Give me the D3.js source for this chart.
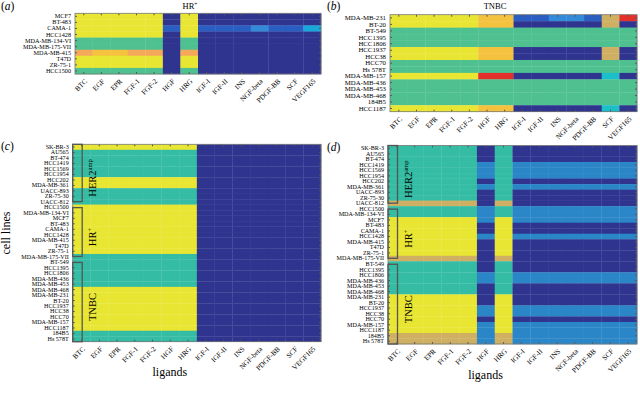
<!DOCTYPE html>
<html>
<head>
<meta charset="utf-8">
<script src="https://cdn.jsdelivr.net/npm/d3@7"></script>
<style>
  body { margin: 0; background: #fff; }
  svg text { font-family: "Liberation Serif", "DejaVu Serif", serif; fill: #000; }
  .tick line { stroke: #555; }
</style>
</head>
<body>
<svg id="chart" width="640" height="394"></svg>
<script>
// ligands on the x axis (same for all four panels)
const ligands = ["BTC", "EGF", "EPR", "FGF-1", "FGF-2", "HGF", "HRG",
  "IGF-I", "IGF-II", "INS", "NGF-beta", "PDGF-BB", "SCF", "VEGF165"];

// (a) HR+ cell lines, one code per ligand
const hrLines = ["MCF7", "BT-483", "CAMA-1", "HCC1428", "MDA-MB-134-VI",
  "MDA-MB-175-VII", "MDA-MB-415", "T47D", "ZR-75-1", "HCC1500"];
const hrCodes = [
  "YYYYYDYDDDDDDD",
  "YYYYYDYDDDDDDD",
  "YYYYYMYMMMNMMC",
  "YYYYYDYDDDDDDD",
  "TTTTTDTDDDDDDD",
  "TTTTTDTDDDDDDD",
  "OQQOODODDDDDDD",
  "YYYYYDYDDDDDDD",
  "YYYYYDYDDDDDDD",
  "TTTTTDTDDDDDDD"
];

// (b) TNBC cell lines
const tnbcLines = ["MDA-MB-231", "BT-20", "BT-549", "HCC1395", "HCC1806",
  "HCC1937", "HCC38", "HCC70", "Hs 578T", "MDA-MB-157", "MDA-MB-436",
  "MDA-MB-453", "MDA-MB-468", "184B5", "HCC1187"];
const tnbcCodes = [
  "YYYYYQQMMNNMSR",
  "YYYYYQQDDDDDSD",
  "TTTTTTTTTTTTTT",
  "TTTTTTTTTTTTTT",
  "TTTTTTTTTTTTTT",
  "YYYYYQQDDDDDSD",
  "YYYYYQQDDDDDSD",
  "TTTTTTTTTTTTTT",
  "TTTTTTTTTTTTTT",
  "YYYYYRRDDDDDKD",
  "TTTTTTTTTTTTTT",
  "TTTTTTTTTTTTTT",
  "TTTTTTTTTTTTTT",
  "TTTTTTTTTTTTTT",
  "YYYYYQQDDDDDKD"
];

// (c), (d) all cell lines
const allLines = ["SK-BR-3", "AU565", "BT-474", "HCC1419", "HCC1569", "HCC1954",
  "HCC202", "MDA-MB-361", "UACC-893", "ZR-75-30", "UACC-812",
  "HCC1500", "MDA-MB-134-VI", "MCF7", "BT-483", "CAMA-1", "HCC1428",
  "MDA-MB-415", "T47D", "ZR-75-1", "MDA-MB-175-VII",
  "BT-549", "HCC1395", "HCC1806", "MDA-MB-436", "MDA-MB-453", "MDA-MB-468",
  "MDA-MB-231", "BT-20", "HCC1937", "HCC38", "HCC70", "MDA-MB-157",
  "HCC1187", "184B5", "Hs 578T"];

// (c) code of the EGF-family block (BTC..HRG); the rest is D
const cEgfCodes = "YGGGGGYYGGGYYYYYYYYYGGGGGGYYYYYYYYGG";
// (d) code of BTC..FGF-2 and HRG, and of HGF and IGF-I..VEGF165
const dEgfCodes = "GGGGGGGGGGSGGYYYYYYYSGGGGGGYYYYYYYSS";
const dOtherCodes = "DDDLLLDLDDDLLLDDLDDDDDDLLDDDDLLDLLLL";

const groups = [
  { name: "HER2", sup: "amp", from: "SK-BR-3", to: "UACC-812" },
  { name: "HR", sup: "+", from: "HCC1500", to: "MDA-MB-175-VII" },
  { name: "TNBC", sup: "", from: "BT-549", to: "Hs 578T" }
];

const color = d3.scaleOrdinal()
  .domain(["D", "M", "N", "L", "C", "K", "T", "G", "Y", "Q", "O", "S", "R"])
  .range(["#2f348f", "#2a5ec2", "#338ad8", "#2b86c8", "#18a7da", "#1cbfc8",
    "#4fc190", "#35bca4", "#e9e633", "#f4c23e", "#f4a85a", "#cfb062", "#e3302b"]);

const svg = d3.select("#chart");

function codeRows(lines, codeStrings) {
  let cells = [];
  lines.forEach(function(line, i) {
    codeStrings[i].split("").forEach(function(c, j) {
      cells.push({ line: line, ligand: ligands[j], code: c });
    });
  });
  return cells;
}

let cellsA = codeRows(hrLines, hrCodes);
let cellsB = codeRows(tnbcLines, tnbcCodes);
let cellsC = [], cellsD = [];
allLines.forEach(function(line, i) {
  ligands.forEach(function(lig, j) {
    cellsC.push({ line: line, ligand: lig, code: j < 7 ? cEgfCodes[i] : "D" });
    let egf = (j < 5 || j === 6);
    cellsD.push({ line: line, ligand: lig, code: egf ? dEgfCodes[i] : dOtherCodes[i] });
  });
});

const panels = [
  { tag: "a", lines: hrLines, cells: cellsA, box: [75, 13.3, 321, 74], rowFont: 6.2,
    title: "HR", sup: "+", titleX: 190, titleY: 9, tagX: 1, tagY: 10 },
  { tag: "b", lines: tnbcLines, cells: cellsB, box: [390, 14.7, 637, 111.7], rowFont: 6.8,
    title: "TNBC", sup: "", titleX: 495, titleY: 9, tagX: 327, tagY: 10 },
  { tag: "c", lines: allLines, cells: cellsC, box: [72.7, 144.3, 321, 341.7], rowFont: 6.1,
    tagX: 1, tagY: 150, yTitle: true, xTitleY: 376, brackets: true },
  { tag: "d", lines: allLines, cells: cellsD, box: [388, 145.5, 637, 344], rowFont: 6.1,
    tagX: 327, tagY: 151, xTitleY: 379, brackets: true }
];

panels.forEach(function(p) {
  let [x0, y0, x1, y1] = p.box;
  let x = d3.scaleBand().domain(ligands).range([x0, x1]);
  let y = d3.scaleBand().domain(p.lines).range([y0, y1]);
  let g = svg.append("g");

  g.selectAll("rect.cell")
    .data(p.cells)
    .enter().append("rect")
    .attr("class", "cell")
    .attr("x", d => x(d.ligand))
    .attr("y", d => y(d.line))
    .attr("width", x.bandwidth() + 0.3)
    .attr("height", y.bandwidth() + 0.3)
    .attr("fill", d => color(d.code));

  // MATLAB-like inward ticks on all four sides
  let left = g.append("g").attr("transform", `translate(${x0},0)`)
    .call(d3.axisLeft(y).tickSizeInner(-2).tickSizeOuter(0).tickPadding(4));
  left.selectAll("text").style("font-size", p.rowFont + "px");
  g.append("g").attr("transform", `translate(${x1},0)`)
    .call(d3.axisRight(y).tickSizeInner(-2).tickSizeOuter(0).tickFormat(""));
  g.append("g").attr("transform", `translate(0,${y0})`)
    .call(d3.axisTop(x).tickSizeInner(-2).tickSizeOuter(0).tickFormat(""));
  let bottom = g.append("g").attr("transform", `translate(0,${y1})`)
    .call(d3.axisBottom(x).tickSizeInner(-2).tickSizeOuter(0));
  bottom.selectAll("text")
    .style("font-size", "7.2px")
    .attr("text-anchor", "end")
    .attr("x", 0).attr("y", 0).attr("dy", "0.35em")
    .attr("transform", "translate(2,6) rotate(-45)");
  g.selectAll(".domain").remove();
  g.selectAll(".tick text").attr("fill", "#000");

  g.append("rect")
    .attr("x", x0).attr("y", y0)
    .attr("width", x1 - x0).attr("height", y1 - y0)
    .attr("fill", "none").attr("stroke", "#777").attr("stroke-width", 0.8);

  // panel tag
  g.append("text")
    .attr("x", p.tagX).attr("y", p.tagY)
    .style("font-size", "11.5px")
    .text("(")
    .append("tspan").style("font-style", "italic").text(p.tag)
    .select(function() { return this.parentNode; })
    .append("tspan").text(")");

  if (p.title) {
    let t = g.append("text")
      .attr("x", p.titleX).attr("y", p.titleY)
      .attr("text-anchor", "middle")
      .style("font-size", "8.5px")
      .text(p.title);
    if (p.sup) {
      t.append("tspan").attr("dy", "-3").style("font-size", "5.5px").text(p.sup);
    }
  }

  if (p.xTitleY) {
    g.append("text")
      .attr("x", (x0 + x1) / 2 - 27).attr("y", p.xTitleY)
      .attr("text-anchor", "middle")
      .style("font-size", "12px")
      .text("ligands");
  }
  if (p.yTitle) {
    g.append("text")
      .attr("transform", `translate(10,${(y0 + y1) / 2 - 10}) rotate(-90)`)
      .attr("text-anchor", "middle")
      .style("font-size", "12px")
      .text("cell lines");
  }

  if (p.brackets) {
    groups.forEach(function(gr, k) {
      let top = k === 0 ? y0 : y(gr.from) + 3;
      let bot = k === groups.length - 1 ? y1 : y(gr.to) + y.bandwidth() - 3;
      g.append("rect")
        .attr("x", x0).attr("y", top)
        .attr("width", 9.5).attr("height", bot - top)
        .attr("fill", "none").attr("stroke", "#555").attr("stroke-width", 1.3);
      let lab = g.append("text")
        .attr("transform", `translate(${x0 + 23.5},${(top + bot) / 2 + 5}) rotate(-90)`)
        .attr("text-anchor", "middle")
        .style("font-size", "10.5px")
        .text(gr.name);
      if (gr.sup) {
        lab.append("tspan").attr("dy", "-4").style("font-size", "6.5px").text(gr.sup);
      }
    });
  }
});
</script>
</body>
</html>
